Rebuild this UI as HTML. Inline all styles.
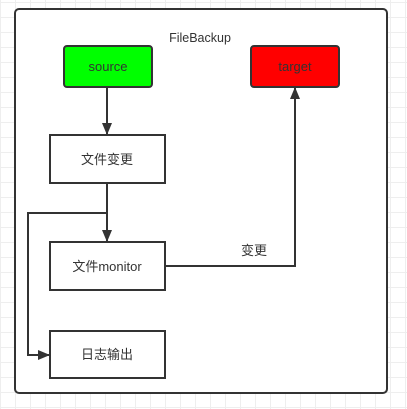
<!DOCTYPE html>
<html><head><meta charset="utf-8"><style>
html,body{margin:0;padding:0;background:#fff}
body{width:407px;height:409px;overflow:hidden;background-image:linear-gradient(#eee 1px,transparent 1px),linear-gradient(90deg,#eee 1px,transparent 1px);background-size:15px 15px;background-position:0 2px}
</style></head><body>
<svg width="407" height="409" style="position:absolute;left:0;top:0" font-family="Liberation Sans, Noto Sans CJK SC, sans-serif">
<defs><marker id="a" markerWidth="12" markerHeight="12" refX="11" refY="5" orient="auto" markerUnits="userSpaceOnUse"><path d="M0,0 L12,5 L0,10 Z" fill="#333"/></marker></defs>
<rect x="15" y="9" width="372" height="384" rx="4" fill="#fff" stroke="#333" stroke-width="2"/>
<text x="200" y="42" text-anchor="middle" font-size="12.5" fill="#333">FileBackup</text>
<rect x="64" y="46" width="88" height="41" rx="3" fill="#00ff00" stroke="#333" stroke-width="2"/>
<text x="108" y="71" text-anchor="middle" font-size="13" fill="#333">source</text>
<rect x="251" y="46" width="88" height="41" rx="3" fill="#ff0000" stroke="#333" stroke-width="2"/>
<text x="295" y="71" text-anchor="middle" font-size="13" fill="#333">target</text>
<rect x="50" y="135" width="115" height="48" fill="#fff" stroke="#333" stroke-width="2"/>
<text x="107" y="164" text-anchor="middle" font-size="13" fill="#333">文件变更</text>
<rect x="50" y="242" width="115" height="48" fill="#fff" stroke="#333" stroke-width="2"/>
<text x="107" y="271" text-anchor="middle" font-size="13" fill="#333">文件monitor</text>
<rect x="50" y="331" width="115" height="47" fill="#fff" stroke="#333" stroke-width="2"/>
<text x="107" y="359" text-anchor="middle" font-size="13" fill="#333">日志输出</text>
<g stroke="#333" stroke-width="2" fill="none">
<line x1="107" y1="88" x2="107" y2="134" marker-end="url(#a)"/>
<line x1="107" y1="184" x2="107" y2="241" marker-end="url(#a)"/>
<polyline points="107,213 28,213 28,355 49,355" marker-end="url(#a)"/>
<polyline points="166,266 295,266 295,88" marker-end="url(#a)"/>
</g>
<text x="254" y="255" text-anchor="middle" font-size="13" fill="#333">变更</text>
</svg>
</body></html>
